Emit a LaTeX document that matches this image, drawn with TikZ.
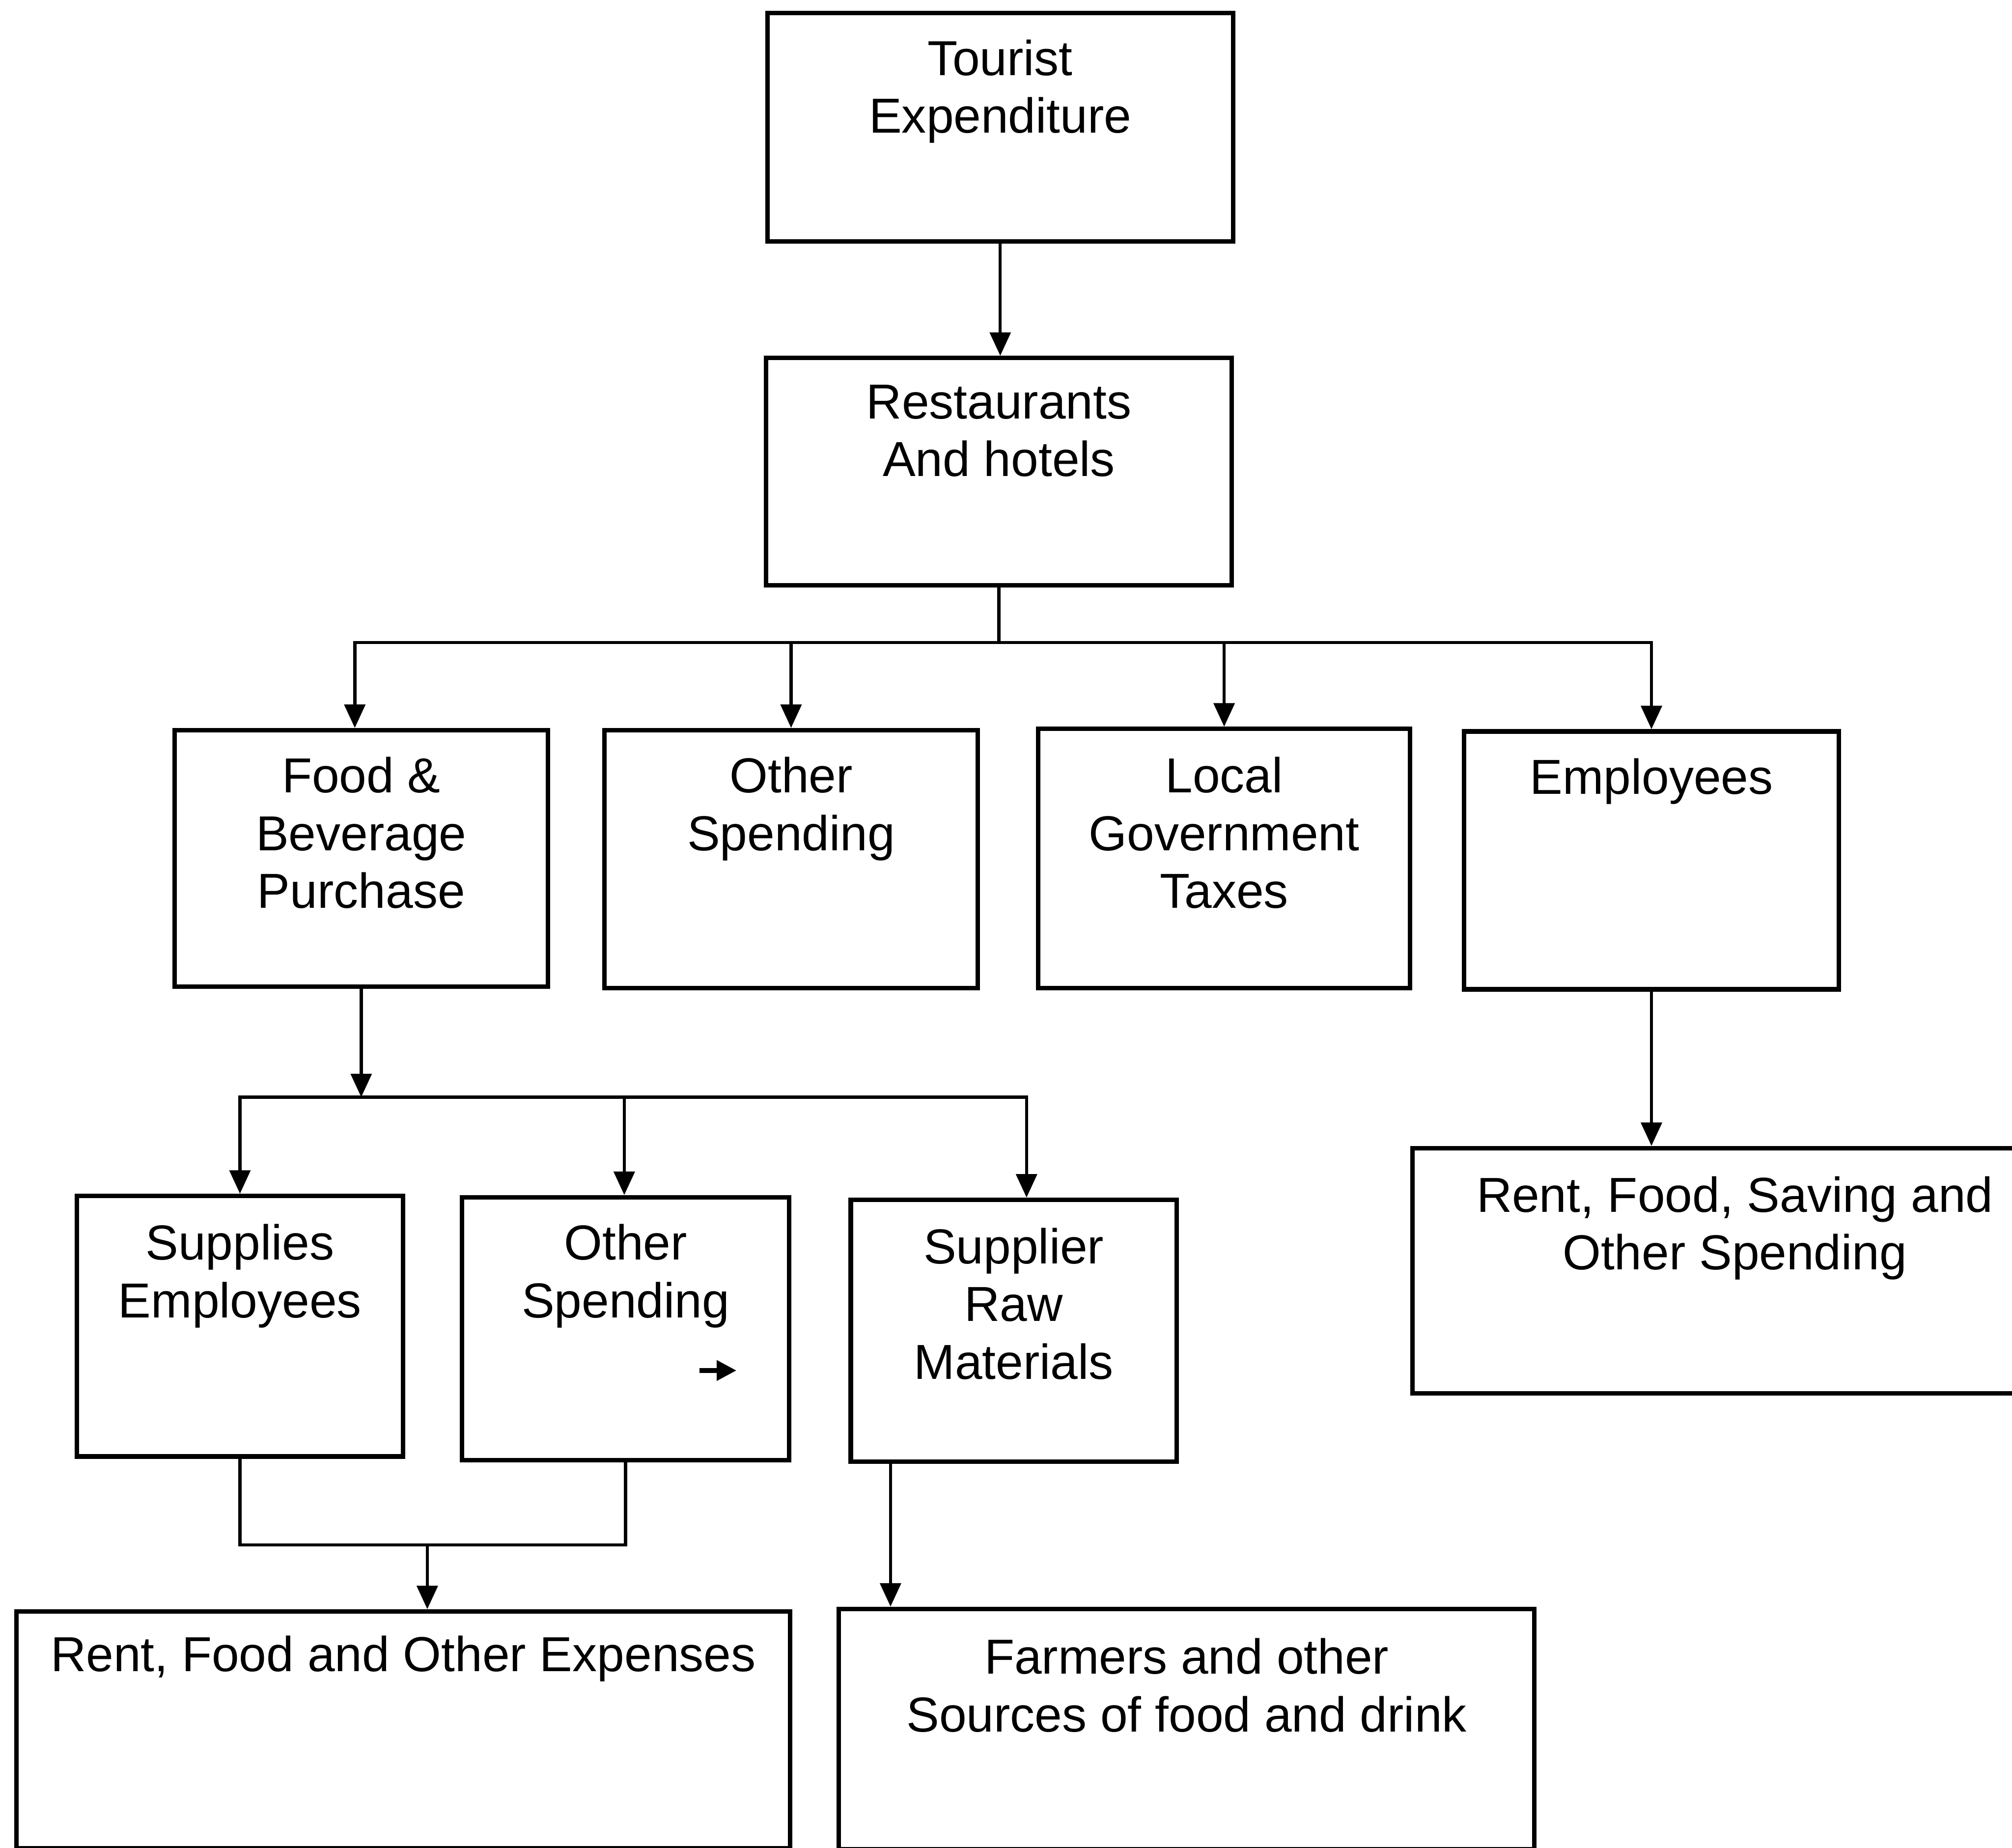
\documentclass[tikz,border=0pt]{standalone}
\usepackage{fontspec}
\setmainfont{Liberation Sans}
\usetikzlibrary{arrows.meta,positioning,calc}

\tikzset{
  box/.style={draw, line width=1pt, rectangle, inner sep=0pt},
  txt/.style={inner sep=0pt, align=center, font=\fontsize{10.9}{12.8}\selectfont},
  conn/.style={line width=0.7pt},
  arr/.style={conn, -{Triangle[length=5.2pt,width=4.6pt]}},
}

\begin{document}
\begin{tikzpicture}
\useasboundingbox (0,0) rectangle (15.68,-14.40);
\clip (0,0) rectangle (15.68,-14.40);

% top chain
\node[box, minimum width=3.63cm, minimum height=1.78cm] (te) at (7.795,-0.99) {};
\node[txt, below=0.22cm of te.north] (te-t) {Tourist\\Expenditure};

\node[box, minimum width=3.63cm, minimum height=1.77cm] (rh) at (7.785,-3.675) {};
\node[txt, below=0.22cm of rh.north] (rh-t) {Restaurants\\And hotels};

% second row
\node[box, minimum width=2.91cm, minimum height=2.00cm] (fb) at (2.815,-6.69) {};
\node[txt, below=0.22cm of fb.north] (fb-t) {Food \&\\Beverage\\Purchase};

\node[box, minimum width=2.91cm, minimum height=2.01cm] (os1) at (6.165,-6.695) {};
\node[txt, below=0.22cm of os1.north] (os1-t) {Other\\Spending};

\node[box, minimum width=2.90cm, minimum height=2.02cm] (lg) at (9.54,-6.69) {};
\node[txt, below=0.23cm of lg.north] (lg-t) {Local\\Government\\Taxes};

\node[box, minimum width=2.92cm, minimum height=2.01cm] (emp) at (12.87,-6.705) {};
\node[txt, below=0.22cm of emp.north] (emp-t) {Employees};

% third row
\node[box, minimum width=2.54cm, minimum height=2.03cm] (se) at (1.87,-10.335) {};
\node[txt, below=0.23cm of se.north] (se-t) {Supplies\\Employees};

\node[box, minimum width=2.55cm, minimum height=2.05cm] (os2) at (4.875,-10.355) {};
\node[txt, below=0.22cm of os2.north] (os2-t) {Other\\Spending};

\node[box, minimum width=2.54cm, minimum height=2.04cm] (sr) at (7.90,-10.37) {};
\node[txt, below=0.23cm of sr.north] (sr-t) {Supplier\\Raw\\Materials};

\node[box, anchor=north west, minimum width=5.3cm, minimum height=1.91cm] (rfs) at (10.99,-8.93) {};
\node[txt, anchor=north] (rfs-t) at (13.52,-9.16) {Rent, Food, Saving and\\Other Spending};

% bottom row
\node[box, anchor=north west, minimum width=6.03cm, minimum height=1.845cm] (rfo) at (0.11,-12.54) {};
\node[txt, below=0.20cm of rfo.north] (rfo-t) {Rent, Food and Other Expenses};

\node[box, anchor=north west, minimum width=5.42cm, minimum height=1.875cm] (fa) at (6.52,-12.52) {};
\node[txt, below=0.24cm of fa.north] (fa-t) {Farmers and other\\Sources of food and drink};

% small arrow inside the second "Other Spending" box
\coordinate (sa1) at (5.45,-10.68);
\coordinate (sa2) at (5.74,-10.68);
\draw[line width=1.1pt, -{Triangle[length=4.4pt,width=4.3pt]}] (sa1) -- (sa2);

% connectors
\draw[arr] (te.south) -- (te.south |- rh.north);

\coordinate (b1) at ($(rh.south)+(0,-0.43)$);
\draw[conn] (rh.south) -- (b1);
\draw[arr] (b1) -| ([xshift=-0.05cm]fb.north);
\draw[arr] (b1) -| (os1.north);
\draw[arr] (b1) -| (lg.north);
\draw[arr] (b1) -| (emp.north);

\coordinate (b2) at (fb.south |- 0,-8.55);
\draw[arr] (fb.south) -- (b2);
\draw[arr] (b2) -| (se.north);
\draw[arr] (b2) -| ([xshift=-0.01cm]os2.north);
\draw[arr] (b2) -| ([xshift=0.1cm]sr.north);

\draw[arr] (emp.south) -- (emp.south |- rfs.north);

\coordinate (j) at (3.33,-12.04);
\draw[conn] (se.south) |- (os2.south |- j) -- (os2.south);
\draw[arr] (j) -- (j |- rfo.north);

\coordinate (srx) at ([xshift=-0.96cm]sr.south);
\draw[arr] (srx) -- (srx |- fa.north);
\end{tikzpicture}
\end{document}
